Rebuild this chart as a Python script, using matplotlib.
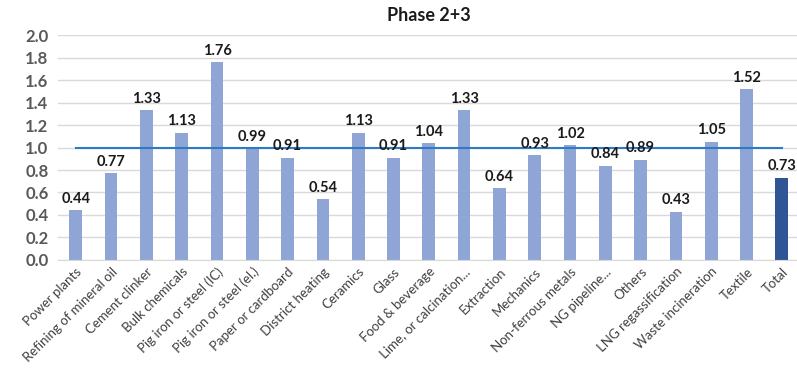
import numpy as np
import matplotlib.pyplot as plt

plt.rcParams['font.family'] = ['Lato', 'DejaVu Sans']

# Categorie e valori
sectors = ["Power plants", "Refining of mineral oil", "Cement clinker", "Bulk chemicals",
           "Pig iron or steel (IC)", "Pig iron or steel (el.)", "Paper or cardboard",
           "District heating", "Ceramics", "Glass", "Food & beverage",
           "Lime, or calcination...", "Extraction", "Mechanics", "Non-ferrous metals",
           "NG pipeline...", "Others", "LNG regassification", "Waste incineration",
           "Textile", "Total"]
ratio = [0.44, 0.77, 1.33, 1.13, 1.76, 0.99, 0.91, 0.54, 1.13, 0.91, 1.04,
         1.33, 0.64, 0.93, 1.02, 0.84, 0.89, 0.43, 1.05, 1.52, 0.73]
threshold = [1.0] * len(sectors)

x = np.arange(len(sectors))
colors = ['#8EA5D5'] * (len(sectors) - 1) + ['#2F5597']

fig = plt.figure(figsize=(7.97, 3.74), dpi=100)
ax = fig.add_axes([0.073, 0.305, 0.93, 0.601])

ax.bar(x, ratio, width=0.36, color=colors, zorder=2)
ax.plot(x, threshold, color='#2E7BC4', lw=1.5, zorder=3)

for xi, v in zip(x, ratio):
    ax.text(xi, v + 0.04, f"{v:.2f}", ha='center', va='bottom',
            fontsize=10.5, fontweight='bold', color='#1a1a1a', zorder=4)

ax.set_xlim(-0.5, len(sectors) - 0.5)
ax.set_ylim(0, 2.0)
ax.set_yticks(np.arange(0, 2.01, 0.2))
ax.set_yticklabels([f"{t:.1f}" for t in np.arange(0, 2.01, 0.2)])
ax.yaxis.grid(True, color='#D9D9D9', lw=1, zorder=0)
ax.set_axisbelow(True)
for s in ['top', 'right', 'left']:
    ax.spines[s].set_visible(False)
ax.spines['bottom'].set_color('#D9D9D9')

ax.tick_params(axis='y', length=0, labelsize=12, labelcolor='#595959', pad=7)
for lab in ax.get_yticklabels():
    lab.set_fontweight('bold')

ax.set_xticks(x)
ax.set_xticklabels(sectors, rotation=45, ha='right', rotation_mode='anchor',
                   fontsize=9.5, color='#404040')
ax.tick_params(axis='x', length=0, pad=4)

ax.set_title("Phase 2+3", fontsize=13, fontweight='bold', color='#1a1a1a', pad=10)

fig.savefig("out.png", dpi=100)
